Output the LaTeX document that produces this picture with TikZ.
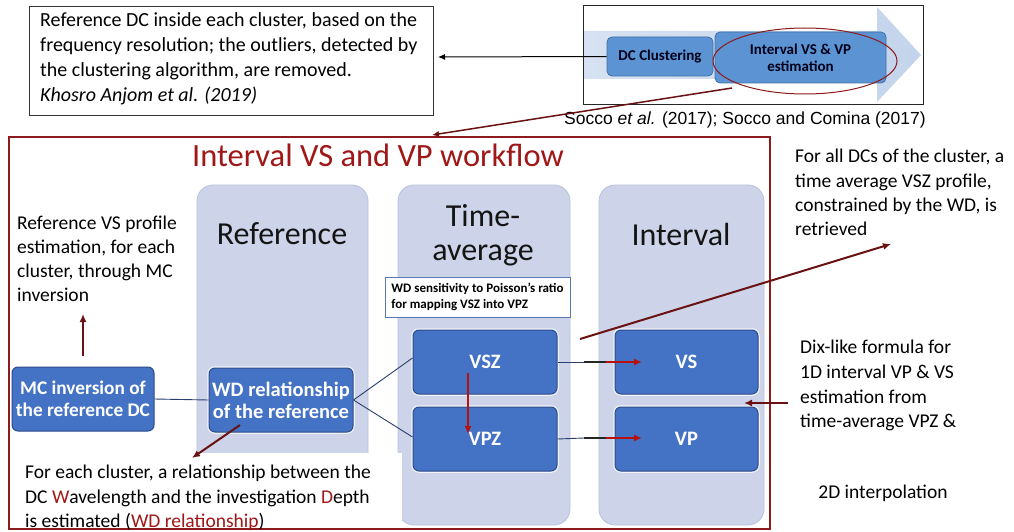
\documentclass[tikz,border=0pt]{standalone}
\usepackage{fontspec}
\setmainfont{Carlito}
\newfontfamily\arialfont{Liberation Sans}
\usetikzlibrary{arrows.meta,calc}

\definecolor{lav}{HTML}{CDD4E9}
\definecolor{lavb}{HTML}{BAC3DD}
\definecolor{boxblue}{HTML}{4472C4}
\definecolor{boxedge}{HTML}{2C4C8C}
\definecolor{maroonln}{HTML}{6A1212}
\definecolor{framered}{HTML}{8E1B1B}
\definecolor{titlered}{HTML}{A01717}
\definecolor{arrowred}{HTML}{B80F0F}
\definecolor{chevl}{HTML}{D6E2F1}
\definecolor{chevr}{HTML}{C3D4EC}
\definecolor{topblue}{HTML}{5B93D3}
\definecolor{topedge}{HTML}{3F6FA8}
\definecolor{navyln}{HTML}{2A3F6E}
\definecolor{notebord}{HTML}{5878B0}

\tikzset{
  note/.style={inner sep=0pt, align=left, anchor=north west,
    font=\fontsize{19.5}{24}\selectfont},
  column/.style={rounded corners=16pt, fill=lav, draw=lavb, line width=0.8pt},
  header/.style={inner sep=0pt, align=center, text=black!92,
    font=\fontsize{32}{34}\selectfont},
  bluebox/.style={rounded corners=6pt, fill=boxblue, draw=boxedge,
    line width=1pt, text=white, align=center, inner sep=0pt,
    font=\bfseries\fontsize{20.5}{22}\selectfont,
    preaction={draw=white, line width=3.5pt, opacity=0.75}},
  topbox/.style={rounded corners=5pt, fill=topblue, draw=topedge,
    line width=0.8pt, text=black!90!blue, align=center, inner sep=0pt,
    font=\bfseries\fontsize{15}{17}\selectfont},
  darrow/.style={maroonln, line width=2pt, -{Latex[length=8pt,width=7pt]}},
  redarrow/.style={arrowred, line width=2pt, -{Latex[length=8pt,width=7pt]}},
  thinlink/.style={navyln, line width=0.9pt},
}

\begin{document}
\begin{tikzpicture}[x=1pt,y=-1pt]
\useasboundingbox (0,0) rectangle (1014,532);
\fill[white] (0,0) rectangle (1014,532);

% ---------- top left note ----------
\node[draw=black!80, line width=1pt, minimum width=404pt, minimum height=109pt,
      anchor=north west, inner sep=0pt] (refbox) at (29,6) {};
\node[note, font=\fontsize{20}{25}\selectfont] (reftext) at (40,12)
  {Reference DC inside each cluster, based on the\\
   frequency resolution; the outliers, detected by\\
   the clustering algorithm, are removed.\\
   \itshape Khosro Anjom et al. (2019)};

% ---------- top right process arrow ----------
\node[draw=black!85, line width=1pt, minimum width=340pt, minimum height=99pt,
      anchor=north west, inner sep=0pt] (procbox) at (583,5) {};
\shade[left color=chevl, right color=chevr]
  (584,31) -- (877,31) -- (877,7) -- (921,55) -- (877,102)
  -- (877,79) -- (584,79) -- cycle;
\node[topbox, minimum width=106pt, minimum height=39pt] (dcc) at (660,56.5)
  {DC Clustering};
\node[topbox, minimum width=171pt, minimum height=51pt] (ivp) at (800.5,57.5)
  {Interval VS \& VP\\estimation};
\draw[framered, line width=1pt] (805,61) ellipse [x radius=92pt, y radius=33pt];
\node[inner sep=0pt, font=\arialfont\fontsize{17.5}{20}\selectfont] (cite)
  at (745,120) {Socco {\itshape et al.} (2017); Socco and Comina (2017)};

\coordinate (refin) at (438,57);
\draw[black, line width=1pt, -{Latex[length=7pt,width=6pt]}] (dcc.west) -- (refin);

% ---------- workflow frame ----------
\draw[framered, line width=1.2pt] (9,137) rectangle (770,529);
\coordinate (ellout) at (732,88);
\coordinate (framein) at (432,135);
\draw[maroonln, line width=1.5pt, -{Latex[length=7pt,width=6pt]}] (ellout) -- (framein);

\node[inner sep=0pt, text=titlered, font=\fontsize{32.5}{33}\selectfont] (title)
  at (378,155) {Interval VS and VP workflow};

% columns
\draw[column] (197,185) rectangle (368,525);
\draw[column] (398,185) rectangle (570,525);
\draw[column] (599,185) rectangle (764,525);
\node[header] (hRef) at (282,234) {Reference};
\node[header] (hTime) at (483,235) {Time-\\average};
\node[header] (hInt) at (681,235) {Interval};

% white ground of the bottom note
\fill[white] (12,453) rectangle (402,528);

% note box in the time-average column
\node[draw=notebord, line width=1pt, fill=white, minimum width=185pt,
      minimum height=40pt, inner sep=0pt, align=left,
      font=\bfseries\fontsize{13}{16}\selectfont] (sens) at (477.5,297)
  {WD sensitivity to Poisson's ratio\\for mapping VSZ into VPZ};

% process boxes
\node[bluebox, minimum width=142pt, minimum height=64pt,
      font=\bfseries\fontsize{19.3}{22}\selectfont] (mc) at (83,399)
  {MC inversion of\\the reference DC};
\node[bluebox, minimum width=144pt, minimum height=64pt] (wd) at (281,400)
  {WD relationship\\of the reference};
\node[bluebox, minimum width=144pt, minimum height=64pt] (vsz) at (485,362) {VSZ};
\node[bluebox, minimum width=144pt, minimum height=64pt] (vpz) at (485,439) {VPZ};
\node[bluebox, minimum width=143pt, minimum height=64pt] (vs) at (686.5,362) {VS};
\node[bluebox, minimum width=143pt, minimum height=64pt] (vp) at (686.5,439) {VP};

% links between boxes
\draw[thinlink] (mc.east) -- (wd.west);
\draw[thinlink] (wd.east) -- (vsz.west |- 0,358);
\draw[thinlink] (wd.east) -- (vpz.west |- 0,437);

\coordinate (vsmid) at (584,362);
\coordinate (vsin) at (642,362);
\coordinate (vpmid) at (584,438);
\coordinate (vpin) at (642,438);
\draw[thinlink] (vsz.east) -- (vsmid);
\draw[thinlink] (vpz.east) -- (vpmid);
\draw[black!85, line width=2pt] (vsmid) -- ++(26,0);
\draw[black!85, line width=2pt] (vpmid) -- ++(26,0);
\draw[redarrow] ($(vsmid)+(22,0)$) -- (vsin);
\draw[redarrow] ($(vpmid)+(22,0)$) -- (vpin);

\coordinate (vszdown) at (468,373);
\coordinate (vpzin) at (468,434);
\draw[redarrow] (vszdown) -- (vpzin);

% ---------- side notes ----------
\node[note] (mcnote) at (17,216)
  {Reference VS profile\\estimation, for each\\cluster, through MC\\inversion};
\coordinate (mcup) at (83,356);
\coordinate (mcnotein) at (83,314);
\draw[darrow] (mcup) -- (mcnotein);

\node[note, font=\fontsize{19.5}{24.5}\selectfont] (wdnote) at (25,465)
  {For each cluster, a relationship between the\\
   DC \textcolor{titlered}{W}avelength and the investigation \textcolor{titlered}{D}epth\\
   is estimated (\textcolor{titlered}{WD relationship})};
\coordinate (wdout) at (240,425);
\coordinate (wdnotein) at (192,458);
\draw[darrow] (wdout) -- (wdnotein);

\node[note, font=\fontsize{19.5}{24.3}\selectfont] (tanote) at (795,149)
  {For all DCs of the cluster, a\\time average VSZ profile,\\constrained by the WD, is\\retrieved};
\coordinate (taout) at (580,339);
\coordinate (tanotein) at (891,244);
\draw[darrow] (taout) -- (tanotein);

\node[note, font=\fontsize{19.5}{24.7}\selectfont] (dixnote) at (800,340)
  {Dix-like formula for\\1D interval VP \& VS\\estimation from\\time-average VPZ \&};
\node[inner sep=0pt, font=\fontsize{19.5}{24}\selectfont] (interp) at (883,493)
  {2D interpolation};
\coordinate (dixout) at (788,403);
\coordinate (dixin) at (744,403);
\draw[darrow] (dixout) -- (dixin);

\end{tikzpicture}
\end{document}
